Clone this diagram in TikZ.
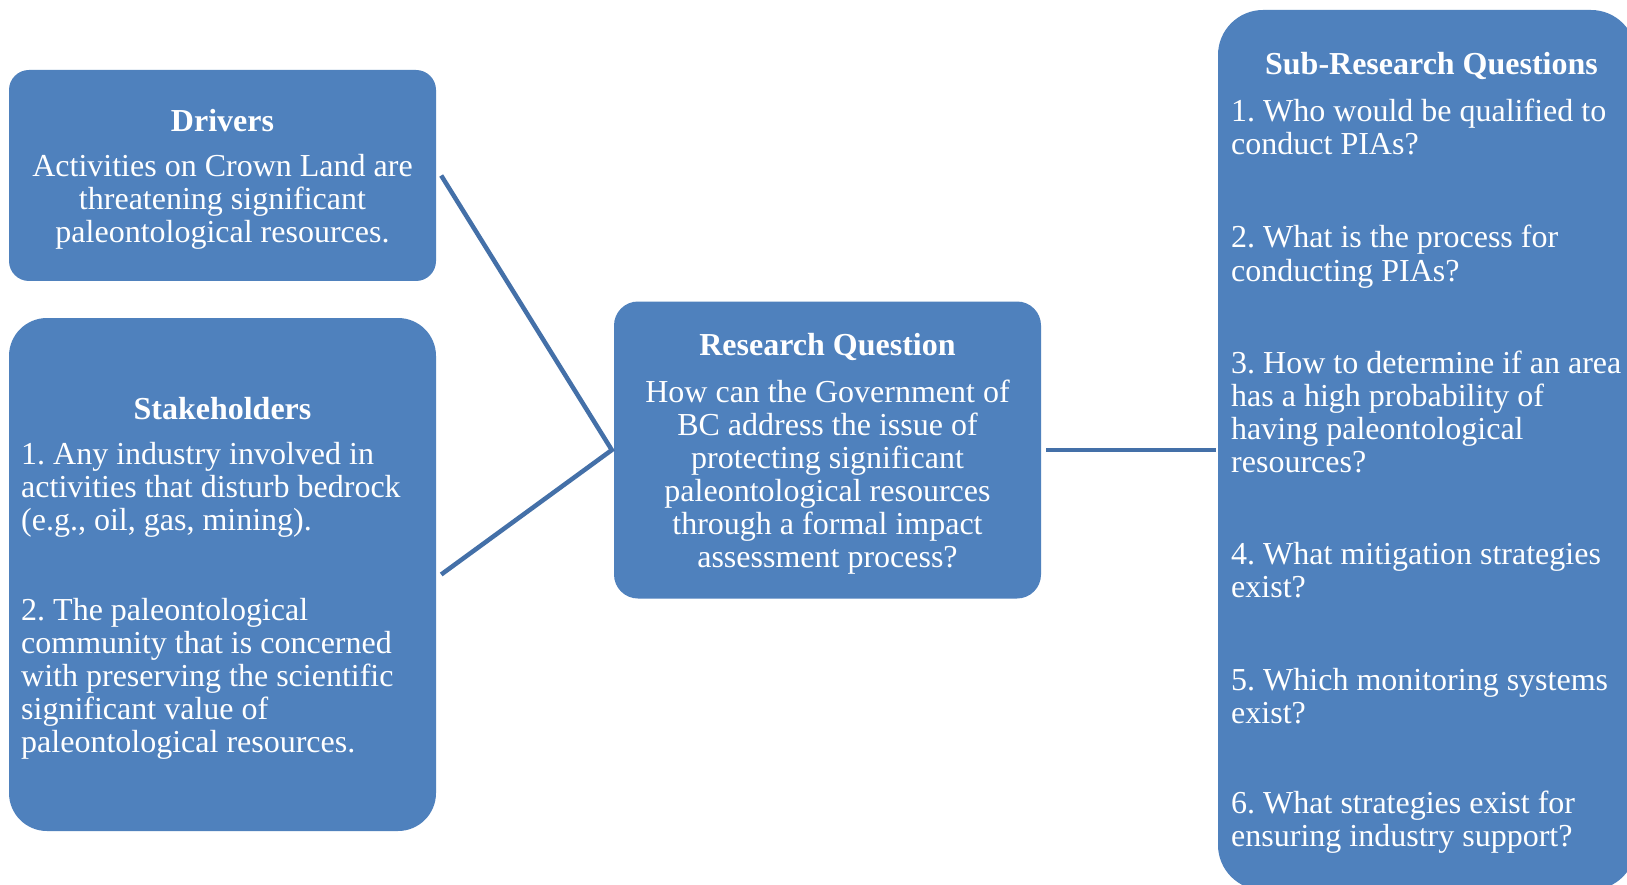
\documentclass[tikz,border=0pt]{standalone}
\usepackage{fontspec}
\setmainfont{Liberation Serif}
\frenchspacing
\definecolor{boxblue}{HTML}{4F81BD}
\definecolor{linkblue}{HTML}{4470A8}
\tikzset{
  panel/.style={fill=boxblue, draw=none, inner sep=0pt},
  label/.style={text=white, inner sep=0pt, font={\fontsize{32}{33}\selectfont}},
  heading/.style={label, font={\fontsize{32}{33}\selectfont\bfseries}},
  link/.style={draw=linkblue, line width=4.5pt, line join=miter}
}
\begin{document}
\begin{tikzpicture}[x=1pt, y=-1pt]
  \fill[white] (0,0) rectangle (1627,885);
  \clip (0,0) rectangle (1627,885);

  % panels
  \node[panel, minimum width=427pt, minimum height=211pt, rounded corners=20pt] (drivers) at (222.5,175.5) {};
  \node[panel, minimum width=427pt, minimum height=513pt, rounded corners=38pt] (stake) at (222.5,574.5) {};
  \node[panel, minimum width=427pt, minimum height=297pt, rounded corners=24pt] (rq) at (827.5,450) {};
  \node[panel, minimum width=418pt, minimum height=880pt, rounded corners=45pt] (subq) at (1427,450) {};

  % connectors
  \draw[link] ([xshift=5pt]drivers.east) -- ([xshift=-2pt]rq.west) -- ([xshift=5pt]stake.east);
  \draw[link] ([xshift=5pt]rq.east) -- ([xshift=-2pt]subq.west);

  % Drivers (multi-line texts are placed by the baseline of their last line)
  \node[heading, anchor=base] (drvhead) at (222.5,132) {Drivers};
  \node[label, anchor=base, align=center] (drvtext) at (222.5,243)
    {Activities on Crown Land are\\threatening significant\\paleontological resources.};

  % Stakeholders
  \node[heading, anchor=base] (stkhead) at (222.5,419) {Stakeholders};
  \node[label, anchor=base west, align=left] (stkone) at (21,530)
    {1. Any industry involved in\\activities that disturb bedrock\\(e.g., oil, gas, mining).};
  \node[label, anchor=base west, align=left] (stktwo) at (21,752)
    {2. The paleontological\\community that is concerned\\with preserving the scientific\\significant value of\\paleontological resources.};

  % Research question
  \node[heading, anchor=base] (rqhead) at (827.5,355) {Research Question};
  \node[label, anchor=base, align=center] (rqtext) at (827.5,567)
    {How can the Government of\\BC address the issue of\\protecting significant\\paleontological resources\\through a formal impact\\assessment process?};

  % Sub-research questions
  \node[heading, anchor=base] (sqhead) at (1431.5,75) {Sub-Research Questions};
  \node[label, anchor=base west, align=left] (sqone) at (1231,155)
    {1. Who would be qualified to\\conduct PIAs?};
  \node[label, anchor=base west, align=left] (sqtwo) at (1231,281)
    {2. What is the process for\\conducting PIAs?};
  \node[label, anchor=base west, align=left] (sqthree) at (1231,472)
    {3. How to determine if an area\\has a high probability of\\having paleontological\\resources?};
  \node[label, anchor=base west, align=left] (sqfour) at (1231,597)
    {4. What mitigation strategies\\exist?};
  \node[label, anchor=base west, align=left] (sqfive) at (1231,723)
    {5. Which monitoring systems\\exist?};
  \node[label, anchor=base west, align=left] (sqsix) at (1231,846)
    {6. What strategies exist for\\ensuring industry support?};
\end{tikzpicture}
\end{document}
